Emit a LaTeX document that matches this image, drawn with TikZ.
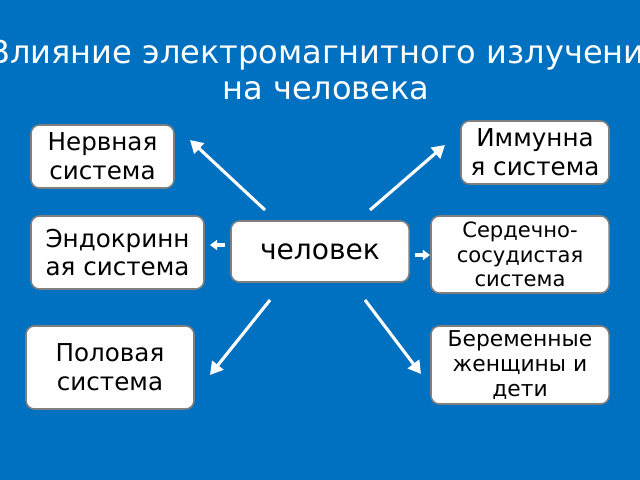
\documentclass[tikz,border=0pt]{standalone}
\usepackage{fontspec}
\setmainfont{DejaVu Sans}
\usetikzlibrary{arrows.meta,positioning,calc}
\definecolor{slideblue}{HTML}{0070C0}
\definecolor{boxline}{HTML}{7F7F7F}
\tikzset{
  organ/.style={draw=boxline,line width=1.1pt,fill=white,rounded corners=6pt,align=center,inner sep=1pt,font=\fontsize{17.5}{20.5}\selectfont},
  ray/.style={draw=white,line width=2.2pt,-{Triangle[length=9pt,width=10pt]}},
  stub/.style={draw=white,line width=2.2pt,-{Triangle[length=5pt,width=7pt]}},
}

\begin{document}
\begin{tikzpicture}[x=0.025cm,y=0.025cm]
% slide background
\clip (0,0) rectangle (640,480);
\fill[slideblue] (0,0) rectangle (640,480);
% title
\node[white,align=center,font=\fontsize{22.8}{25.5}\selectfont] (title) at (326,410) {Влияние электромагнитного излучения\\ на человека};
% the boxes
\node[organ,minimum width=4.45cm,minimum height=1.525cm,font=\fontsize{20}{23}\selectfont] (hum) at (320,228.5) {человек};
\node[organ,minimum width=3.575cm,minimum height=1.575cm] (nerv) at (102.5,323.5) {Нервная\\система};
\node[organ,minimum width=3.7cm,minimum height=1.575cm] (imm) at (535,327.5) {Иммунна\\я система};
\node[organ,minimum width=4.325cm,minimum height=1.825cm] (endo) at (117.5,227.5) {Эндокринн\\ая система};
\node[organ,minimum width=4.45cm,minimum height=1.925cm,font=\fontsize{15}{17.5}\selectfont] (card) at (520,225.5) {Сердечно-\\сосудистая\\система};
\node[organ,minimum width=4.2cm,minimum height=2.075cm] (sex) at (110,112.5) {Половая\\система};
\node[organ,minimum width=4.45cm,minimum height=1.95cm,font=\fontsize{15.5}{18}\selectfont] (preg) at (520,115) {Беременные\\женщины и\\дети};
% arrow ends
\coordinate (nervS) at (265,270);
\coordinate (nervE) at (190,340);
\coordinate (immS) at (370,270);
\coordinate (immE) at (445,335);
\coordinate (endoS) at (225,235);
\coordinate (endoE) at (210,235);
\coordinate (cardS) at (415,225);
\coordinate (cardE) at (430,225);
\coordinate (sexS) at (270,180);
\coordinate (sexE) at (210,105);
\coordinate (pregS) at (365,180);
\coordinate (pregE) at (421,106);
\draw[ray] (nervS) -- (nervE);
\draw[ray] (immS) -- (immE);
\draw[ray] (sexS) -- (sexE);
\draw[ray] (pregS) -- (pregE);
\draw[stub] (endoS) -- (endoE);
\draw[stub] (cardS) -- (cardE);
\end{tikzpicture}
\end{document}
